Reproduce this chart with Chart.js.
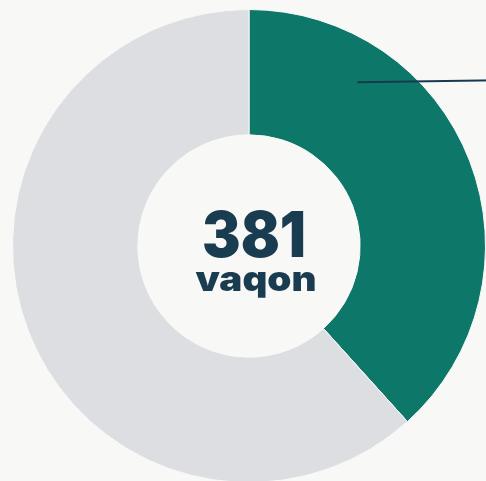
<!DOCTYPE html>
<html>
<head>
<meta charset="utf-8">
<script src="https://cdn.jsdelivr.net/npm/chart.js@4/dist/chart.umd.min.js"></script>
<style>
    html, body { margin: 0; padding: 0; background: #f8f8f6; overflow: hidden; }
    #wrap { width: 498px; height: 492px; }
</style>
</head>
<body>
<div id="wrap"><canvas id="vaqonChart"></canvas></div>
<script>
// Vaqon bölgüsü: yaşıl hissə və qalan hissə
const segmentLabels = ['Hissə', 'Qalan'];
const segmentValues = [146, 235];
const segmentColors = ['#0d786a', '#dddee1'];
const totalLabel = '381';
const unitLabel = 'vaqon';

// Mərkəzdəki yazı – mətn verilmiş enə sığdırılır
const centerText = {
    id: 'centerText',
    afterDraw(chart, args, opts) {
        const arc = chart.getDatasetMeta(0).data[0];
        if (!arc) return;
        const ctx = chart.ctx;
        const cx = arc.x, cy = arc.y;
        ctx.save();
        ctx.fillStyle = opts.color;
        ctx.textAlign = 'center';
        ctx.textBaseline = 'alphabetic';
        opts.lines.forEach(line => {
            ctx.font = `900 ${line.size}px Inter, 'DejaVu Sans', sans-serif`;
            const w = ctx.measureText(line.text).width;
            const sx = line.width / w;
            ctx.save();
            ctx.translate(cx + line.dx, cy + line.dy);
            ctx.scale(sx, 1);
            ctx.fillText(line.text, 0, 0);
            ctx.restore();
        });
        ctx.restore();
    }
};

// Yaşıl hissədən sağa çıxan xətt
const leaderLine = {
    id: 'leaderLine',
    afterDraw(chart, args, opts) {
        const arc = chart.getDatasetMeta(0).data[0];
        if (!arc) return;
        const ctx = chart.ctx;
        const a = arc.startAngle + (arc.endAngle - arc.startAngle) * opts.angleFrac;
        const r = arc.outerRadius * opts.radiusFrac;
        const x0 = arc.x + Math.cos(a) * r;
        const y0 = arc.y + Math.sin(a) * r;
        ctx.save();
        ctx.strokeStyle = opts.color;
        ctx.lineWidth = opts.width;
        ctx.beginPath();
        ctx.moveTo(x0, y0);
        ctx.lineTo(chart.width, y0 + opts.rise);
        ctx.stroke();
        ctx.restore();
    }
};

const ctx = document.getElementById('vaqonChart').getContext('2d');
new Chart(ctx, {
    type: 'doughnut',
    data: {
        labels: segmentLabels,
        datasets: [{
            data: segmentValues,
            backgroundColor: segmentColors,
            borderColor: '#f8f8f6',
            borderWidth: 1,
            hoverOffset: 0
        }]
    },
    options: {
        responsive: true,
        maintainAspectRatio: false,
        animation: false,
        cutout: '47%',
        layout: { padding: 9 },
        plugins: {
            legend: { display: false },
            tooltip: { enabled: false },
            centerText: {
                color: '#1a3c50',
                lines: [
                    { text: totalLabel, size: 63, width: 104, dx: 5, dy: 11 },
                    { text: unitLabel, size: 34, width: 121, dx: 7, dy: 45 }
                ]
            },
            leaderLine: {
                color: '#173a4f',
                width: 2,
                angleFrac: 0.243,
                radiusFrac: 0.83,
                rise: -2
            }
        }
    },
    plugins: [centerText, leaderLine]
});
</script>
</body>
</html>
